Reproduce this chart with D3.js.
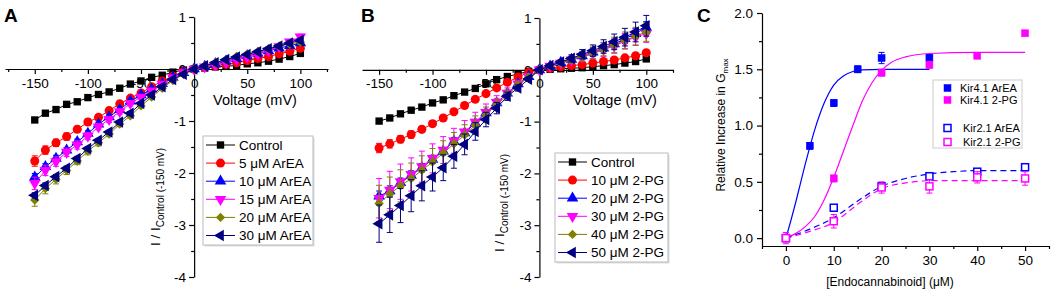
<!DOCTYPE html>
<html lang="en">
<head>
<meta charset="UTF-8" />
<title>Kir4.1 / Kir2.1 endocannabinoid</title>
<script src="https://d3js.org/d3.v7.min.js"></script>
<style>
body { margin: 0; background: #fff; }
svg { font-family: "Liberation Sans", Arial, sans-serif; }
.axis path, .axis line { stroke: #000; stroke-width: 1.2; fill: none; }
.axis text { font-size: 13.5px; fill: #000; }
</style>
</head>
<body>
<script>
// ---- data ----
var voltages = [-150,-140,-130,-120,-110,-100,-90,-80,-70,-60,-50,-40,-30,-20,-10,0,10,20,30,40,50,60,70,80,90,100];

// panel A : ArEA
var ctlA   = [-0.98,-0.85,-0.78,-0.68,-0.63,-0.55,-0.49,-0.44,-0.37,-0.29,-0.23,-0.16,-0.12,-0.06,-0.02,0,0.02,0.04,0.05,0.07,0.1,0.12,0.15,0.19,0.24,0.3];
var area5  = [-1.77,-1.56,-1.42,-1.3,-1.16,-1.02,-0.93,-0.8,-0.67,-0.56,-0.46,-0.34,-0.23,-0.14,-0.05,0,0.03,0.06,0.09,0.12,0.16,0.2,0.24,0.29,0.34,0.4];
var area10 = [-2.08,-1.88,-1.72,-1.56,-1.4,-1.24,-1.06,-0.92,-0.78,-0.62,-0.5,-0.39,-0.28,-0.16,-0.07,0,0.05,0.1,0.15,0.2,0.25,0.3,0.35,0.4,0.45,0.5];
var area15 = [-2.2,-1.95,-1.78,-1.6,-1.46,-1.29,-1.11,-0.97,-0.82,-0.66,-0.54,-0.42,-0.29,-0.17,-0.07,0,0.04,0.08,0.13,0.18,0.23,0.28,0.35,0.43,0.52,0.62];
var area20 = [-2.52,-2.3,-2.12,-1.95,-1.77,-1.58,-1.42,-1.25,-1.06,-0.9,-0.71,-0.54,-0.37,-0.22,-0.1,0,0.06,0.12,0.18,0.24,0.29,0.34,0.39,0.44,0.48,0.52];
var area30 = [-2.43,-2.24,-2.07,-1.91,-1.72,-1.53,-1.37,-1.21,-1.02,-0.85,-0.66,-0.5,-0.34,-0.2,-0.1,0,0.06,0.12,0.18,0.23,0.28,0.33,0.39,0.44,0.5,0.55];

var errCtlA  = [0.03,0.02,0.02,0.02,0.02,0.02,0.02,0.02,0.02,0.02,0.01,0.01,0.01,0.01,0.01,0,0.01,0.01,0.01,0.01,0.02,0.02,0.02,0.03,0.03,0.04];
var errArea5 = [0.1,0.08,0.07,0.07,0.06,0.06,0.05,0.05,0.05,0.04,0.04,0.03,0.03,0.02,0.02,0,0.01,0.01,0.02,0.02,0.02,0.03,0.03,0.03,0.04,0.04];
var errArea10= [0.07,0.06,0.06,0.05,0.05,0.05,0.04,0.04,0.04,0.03,0.03,0.03,0.02,0.02,0.01,0,0.01,0.01,0.02,0.02,0.02,0.03,0.03,0.03,0.04,0.04];
var errArea15= [0.12,0.1,0.09,0.08,0.08,0.07,0.06,0.06,0.05,0.05,0.04,0.03,0.03,0.02,0.02,0,0.01,0.02,0.02,0.02,0.03,0.03,0.04,0.04,0.05,0.05];
var errArea20= [0.12,0.1,0.09,0.08,0.07,0.07,0.06,0.05,0.05,0.04,0.04,0.03,0.03,0.02,0.02,0,0.01,0.02,0.02,0.02,0.03,0.03,0.03,0.04,0.04,0.05];
var errArea30= [0.05,0.05,0.04,0.04,0.04,0.04,0.03,0.03,0.03,0.03,0.02,0.02,0.02,0.01,0.01,0,0.01,0.01,0.02,0.02,0.02,0.03,0.03,0.03,0.04,0.04];

// panel B : 2-PG
var ctlB  = [-0.99,-0.93,-0.85,-0.78,-0.72,-0.64,-0.58,-0.5,-0.43,-0.36,-0.27,-0.19,-0.13,-0.08,-0.03,0,0.01,0.02,0.03,0.04,0.06,0.08,0.1,0.13,0.16,0.21];
var pg10  = [-1.51,-1.43,-1.34,-1.25,-1.15,-1.04,-0.93,-0.81,-0.69,-0.57,-0.46,-0.35,-0.24,-0.14,-0.05,0,0.03,0.06,0.08,0.1,0.13,0.16,0.19,0.23,0.27,0.33];
var pg20  = [-2.44,-2.34,-2.18,-2.04,-1.89,-1.73,-1.57,-1.38,-1.22,-1.03,-0.83,-0.64,-0.45,-0.27,-0.13,0,0.07,0.14,0.2,0.27,0.34,0.42,0.5,0.6,0.7,0.82];
var pg30  = [-2.48,-2.32,-2.16,-2.02,-1.87,-1.71,-1.55,-1.37,-1.2,-1.01,-0.82,-0.63,-0.45,-0.27,-0.13,0,0.07,0.13,0.19,0.25,0.32,0.39,0.46,0.55,0.63,0.7];
var pg40  = [-2.58,-2.4,-2.24,-2.1,-1.94,-1.78,-1.61,-1.43,-1.26,-1.07,-0.87,-0.67,-0.48,-0.29,-0.14,0,0.07,0.13,0.2,0.26,0.33,0.4,0.48,0.57,0.65,0.73];
var pg50  = [-2.97,-2.8,-2.62,-2.43,-2.24,-2.07,-1.89,-1.67,-1.44,-1.19,-0.96,-0.74,-0.51,-0.35,-0.18,0,0.08,0.15,0.22,0.3,0.37,0.45,0.54,0.63,0.73,0.85];

var errCtlB = [0.03,0.02,0.02,0.02,0.02,0.02,0.02,0.02,0.02,0.02,0.01,0.01,0.01,0.01,0.01,0,0.01,0.01,0.01,0.01,0.01,0.02,0.02,0.02,0.03,0.03];
var errPg10 = [0.09,0.08,0.07,0.07,0.06,0.06,0.05,0.05,0.05,0.04,0.04,0.03,0.03,0.02,0.02,0,0.01,0.01,0.02,0.02,0.02,0.03,0.03,0.03,0.04,0.04];
var errPg20 = [0.1,0.1,0.09,0.09,0.08,0.08,0.07,0.07,0.06,0.06,0.05,0.04,0.04,0.03,0.02,0,0.02,0.03,0.04,0.05,0.06,0.07,0.08,0.09,0.1,0.11];
var errPg30 = [0.38,0.36,0.34,0.32,0.3,0.28,0.26,0.24,0.22,0.19,0.16,0.13,0.1,0.07,0.04,0,0.03,0.05,0.07,0.09,0.11,0.13,0.14,0.15,0.16,0.17];
var errPg40 = [0.35,0.33,0.31,0.3,0.28,0.26,0.24,0.22,0.2,0.18,0.15,0.12,0.09,0.06,0.04,0,0.03,0.05,0.07,0.09,0.11,0.13,0.15,0.16,0.17,0.18];
var errPg50 = [0.36,0.34,0.33,0.31,0.29,0.27,0.25,0.23,0.2,0.17,0.14,0.11,0.08,0.06,0.04,0,0.03,0.05,0.07,0.09,0.11,0.13,0.15,0.17,0.19,0.2];

// panel C : concentration response
var concArea41 = [0,5,10,15,20,30];
var gArea41    = [0,0.82,1.2,1.5,1.6,1.6];
var eArea41    = [0.02,0.03,0.03,0.03,0.05,0.03];
var concPg41   = [0,10,20,30,40,50];
var gPg41      = [0,0.53,1.47,1.54,1.62,1.82];
var ePg41      = [0.02,0.03,0.03,0.03,0.02,0.02];
var concArea21 = [0,10,20,30,40,50];
var gArea21    = [0,0.27,0.46,0.55,0.59,0.63];
var eArea21    = [0.02,0.02,0.02,0.02,0.02,0.02];
var concPg21   = [0,10,20,30,40,50];
var gPg21      = [0,0.15,0.45,0.46,0.54,0.53];
var ePg21      = [0.05,0.06,0.05,0.06,0.05,0.06];

// fitted curves
var fitArea41X = [0,1,2,3,4,5,6,7,8,9,10,12,14,16,20,30];
var fitArea41Y = [0,0.15,0.31,0.48,0.65,0.81,0.96,1.09,1.2,1.29,1.36,1.44,1.48,1.495,1.5,1.5];
var fitPg41X   = [0,2,4,6,8,10,12,14,16,18,20,22,25,30,40,50];
var fitPg41Y   = [0,0.04,0.1,0.19,0.34,0.54,0.77,1.0,1.22,1.38,1.49,1.56,1.61,1.64,1.65,1.65];
var fitArea21X = [0,5,10,15,20,25,30,35,40,50];
var fitArea21Y = [0,0.08,0.18,0.33,0.46,0.53,0.57,0.59,0.6,0.6];
var fitPg21X   = [0,5,10,15,20,25,30,35,40,50];
var fitPg21Y   = [0,0.06,0.14,0.3,0.44,0.49,0.51,0.51,0.51,0.51];

var labelsA = ["Control","5 \u03bcM ArEA","10 \u03bcM ArEA","15 \u03bcM ArEA","20 \u03bcM ArEA","30 \u03bcM ArEA"];
var labelsB = ["Control","10 \u03bcM 2-PG","20 \u03bcM 2-PG","30 \u03bcM 2-PG","40 \u03bcM 2-PG","50 \u03bcM 2-PG"];
var labelsC = ["Kir4.1 ArEA","Kir4.1 2-PG","Kir2.1 ArEA","Kir2.1 2-PG"];

var colors = ["#000000","#ff0000","#0000ff","#ff00ff","#808000","#000080"];
var shapes = ["square","circle","up","down","diamond","left"];

// ---- drawing ----
var svg = d3.select("body").append("svg").attr("width", 1052).attr("height", 290);

function symbolPath(shape) {
  var t = d3.symbolSquare, s = 54;
  if (shape == "circle") { t = d3.symbolCircle; s = 64; }
  if (shape == "up" || shape == "down" || shape == "left") { t = d3.symbolTriangle; s = 58; }
  if (shape == "diamond") { t = d3.symbolSquare; s = 44; }
  return d3.symbol().type(t).size(s)();
}
function symbolRot(shape) {
  if (shape == "down") return 180;
  if (shape == "left") return -90;
  if (shape == "diamond") return 45;
  return 0;
}

function drawIV(cfg) {
  var x = cfg.x, y = cfg.y, g = svg.append("g");

  // axes
  g.append("g").attr("class", "axis")
    .attr("transform", "translate(0," + y(0) + ")")
    .call(d3.axisBottom(x).tickValues([-150,-100,-50,0,50,100]).tickSize(5).tickSizeOuter(0).tickPadding(4)
      .tickFormat(function(d) { return String(d); }));
  g.append("g").attr("class", "axis")
    .attr("transform", "translate(0," + y(0) + ")")
    .call(d3.axisBottom(x).tickValues(cfg.minorX).tickSize(3).tickSizeOuter(0).tickFormat(""))
    .select(".domain").remove();
  g.append("g").attr("class", "axis")
    .attr("transform", "translate(" + x(0) + ",0)")
    .call(d3.axisLeft(y).tickValues([-4,-3,-2,-1,0,1]).tickSize(5).tickSizeOuter(0).tickPadding(3)
      .tickFormat(function(d) { return String(d); }));
  g.append("g").attr("class", "axis")
    .attr("transform", "translate(" + x(0) + ",0)")
    .call(d3.axisLeft(y).tickValues([-3.5,-2.5,-1.5,-0.5,0.5]).tickSize(3).tickSizeOuter(0).tickFormat(""))
    .select(".domain").remove();

  g.append("text").attr("x", cfg.xLabelX).attr("y", 105).attr("text-anchor", "middle")
    .attr("font-size", 14.5).text("Voltage (mV)");

  var yl = g.append("text").attr("transform", "translate(" + cfg.yLabelX + "," + cfg.yLabelY + ") rotate(-90)")
    .attr("text-anchor", "middle").attr("font-size", 13.5);
  yl.append("tspan").text("I / I");
  yl.append("tspan").attr("font-size", 10).attr("dy", 4).text("Control (-150 mV)");

  g.append("text").attr("x", cfg.letterX).attr("y", 22).attr("font-size", 19).attr("font-weight", "bold").text(cfg.letter);

  // series
  cfg.series.forEach(function(s, k) {
    var pts = voltages.map(function(v, i) { return { v: v, m: s[i], e: cfg.errs[k][i] }; });
    var sg = g.append("g").attr("stroke", colors[k]);
    sg.selectAll(".eb").data(pts).enter().append("path")
      .attr("fill", "none").attr("stroke-width", 1)
      .attr("d", function(d) {
        var cx = x(d.v), y0 = y(d.m - d.e), y1 = y(d.m + d.e);
        return "M" + cx + "," + y0 + "V" + y1 + "M" + (cx - 3) + "," + y0 + "H" + (cx + 3) + "M" + (cx - 3) + "," + y1 + "H" + (cx + 3);
      });
    sg.append("path").datum(pts).attr("fill", "none").attr("stroke-width", 1)
      .attr("d", d3.line().x(function(d) { return x(d.v); }).y(function(d) { return y(d.m); }));
    sg.selectAll(".mk").data(pts).enter().append("path")
      .attr("fill", colors[k]).attr("stroke", "none")
      .attr("transform", function(d) { return "translate(" + x(d.v) + "," + y(d.m) + ") rotate(" + symbolRot(shapes[k]) + ")"; })
      .attr("d", symbolPath(shapes[k]));
  });

  // legend
  var lg = g.append("g");
  lg.append("rect").attr("x", cfg.legX + 1.5).attr("y", cfg.legY + 1.5).attr("width", cfg.legW).attr("height", 109)
    .attr("fill", "#ddd");
  lg.append("rect").attr("x", cfg.legX).attr("y", cfg.legY).attr("width", cfg.legW).attr("height", 109)
    .attr("fill", "#fff").attr("stroke", "#bbb").attr("stroke-width", 1);
  cfg.labels.forEach(function(lab, k) {
    var ly = cfg.legY + 9 + k * 18.1;
    lg.append("line").attr("x1", cfg.legX + 3).attr("x2", cfg.legX + 32).attr("y1", ly).attr("y2", ly)
      .attr("stroke", colors[k]).attr("stroke-width", 1);
    lg.append("path").attr("fill", colors[k])
      .attr("transform", "translate(" + (cfg.legX + 17.5) + "," + ly + ") rotate(" + symbolRot(shapes[k]) + ")")
      .attr("d", symbolPath(shapes[k]));
    lg.append("text").attr("x", cfg.legX + 36).attr("y", ly + 4.7).attr("font-size", 13.5).text(lab);
  });
}

drawIV({
  x: d3.scaleLinear().domain([-178, 126]).range([5, 328]),
  y: d3.scaleLinear().domain([-4, 1]).range([277, 17]),
  minorX: [-175,-125,-75,-25,25,75,125],
  series: [ctlA, area5, area10, area15, area20, area30],
  errs: [errCtlA, errArea5, errArea10, errArea15, errArea20, errArea30],
  labels: labelsA,
  xLabelX: 255, yLabelX: 160, yLabelY: 197,
  letter: "A", letterX: 4,
  legX: 203, legY: 136, legW: 110
});

drawIV({
  x: d3.scaleLinear().domain([-166, 125]).range([362, 673]),
  y: d3.scaleLinear().domain([-4, 1]).range([277, 18]),
  minorX: [-125,-75,-25,25,75,125],
  series: [ctlB, pg10, pg20, pg30, pg40, pg50],
  errs: [errCtlB, errPg10, errPg20, errPg30, errPg40, errPg50],
  labels: labelsB,
  xLabelX: 615, yLabelX: 504, yLabelY: 203,
  letter: "B", letterX: 361,
  legX: 555, legY: 153, legW: 113
});

// ---- panel C ----
var xC = d3.scaleLinear().domain([-5, 55]).range([762, 1049]);
var yC = d3.scaleLinear().domain([-0.07, 2.0]).range([246, 13]);
var gC = svg.append("g");

gC.append("g").attr("class", "axis").attr("transform", "translate(0,246)")
  .call(d3.axisBottom(xC).tickValues([0,10,20,30,40,50]).tickSize(5).tickSizeOuter(0).tickPadding(4));
gC.append("g").attr("class", "axis").attr("transform", "translate(0,246)")
  .call(d3.axisBottom(xC).tickValues([-5,5,15,25,35,45,55]).tickSize(3).tickSizeOuter(0).tickFormat(""))
  .select(".domain").remove();
gC.append("g").attr("class", "axis").attr("transform", "translate(762,0)")
  .call(d3.axisLeft(yC).tickValues([0,0.5,1,1.5,2]).tickSize(5).tickSizeOuter(0).tickPadding(4)
    .tickFormat(function(d) { return d.toFixed(1); }));
gC.append("g").attr("class", "axis").attr("transform", "translate(762,0)")
  .call(d3.axisLeft(yC).tickValues([0.25,0.75,1.25,1.75]).tickSize(3).tickSizeOuter(0).tickFormat(""))
  .select(".domain").remove();

gC.append("text").attr("x", 890).attr("y", 286).attr("text-anchor", "middle").attr("font-size", 12)
  .text("[Endocannabinoid] (\u03bcM)");
var ylC = gC.append("text").attr("transform", "translate(725,125) rotate(-90)")
  .attr("text-anchor", "middle").attr("font-size", 12);
ylC.append("tspan").text("Relative Increase in G");
ylC.append("tspan").attr("font-size", 8).attr("dy", 3).text("max");
gC.append("text").attr("x", 697).attr("y", 22).attr("font-size", 19).attr("font-weight", "bold").text("C");

var fits = [
  { xs: fitArea41X, ys: fitArea41Y, color: "#0000ff", dash: null },
  { xs: fitPg41X, ys: fitPg41Y, color: "#ff00ff", dash: null },
  { xs: fitArea21X, ys: fitArea21Y, color: "#0000ff", dash: "6,4" },
  { xs: fitPg21X, ys: fitPg21Y, color: "#ff00ff", dash: "6,4" }
];
fits.forEach(function(f) {
  var pts = f.xs.map(function(c, i) { return [c, f.ys[i]]; });
  gC.append("path").datum(pts).attr("fill", "none").attr("stroke", f.color).attr("stroke-width", 1.2)
    .attr("stroke-dasharray", f.dash)
    .attr("d", d3.line().curve(d3.curveMonotoneX).x(function(d) { return xC(d[0]); }).y(function(d) { return yC(d[1]); }));
});

var pointSets = [
  { xs: concArea41, ys: gArea41, es: eArea41, color: "#0000ff", open: false },
  { xs: concPg41, ys: gPg41, es: ePg41, color: "#ff00ff", open: false },
  { xs: concArea21, ys: gArea21, es: eArea21, color: "#0000ff", open: true },
  { xs: concPg21, ys: gPg21, es: ePg21, color: "#ff00ff", open: true }
];
pointSets.forEach(function(p) {
  var pts = p.xs.map(function(c, i) { return { c: c, m: p.ys[i], e: p.es[i] }; });
  var sg = gC.append("g");
  sg.selectAll(".eb").data(pts).enter().append("path")
    .attr("fill", "none").attr("stroke", p.color).attr("stroke-width", 1)
    .attr("d", function(d) {
      var cx = xC(d.c), y0 = yC(d.m - d.e), y1 = yC(d.m + d.e);
      return "M" + cx + "," + y0 + "V" + y1 + "M" + (cx - 3) + "," + y0 + "H" + (cx + 3) + "M" + (cx - 3) + "," + y1 + "H" + (cx + 3);
    });
  sg.selectAll(".mk").data(pts).enter().append("rect")
    .attr("x", function(d) { return xC(d.c) - 3.5; })
    .attr("y", function(d) { return yC(d.m) - 3.5; })
    .attr("width", 7).attr("height", 7)
    .attr("fill", p.open ? "#fff" : p.color)
    .attr("stroke", p.color).attr("stroke-width", p.open ? 1.5 : 0.5);
});

// legend C
var lgC = gC.append("g");
lgC.append("rect").attr("x", 933).attr("y", 80).attr("width", 89).attr("height", 68)
  .attr("fill", "#fff").attr("stroke", "#ccc").attr("stroke-width", 1);
var legYs = [88, 100, 128, 142];
labelsC.forEach(function(lab, k) {
  var p = pointSets[k];
  lgC.append("rect").attr("x", 944).attr("y", legYs[k] - 3.5).attr("width", 7).attr("height", 7)
    .attr("fill", p.open ? "#fff" : p.color).attr("stroke", p.color).attr("stroke-width", p.open ? 1.5 : 0.5);
  lgC.append("text").attr("x", k < 2 ? 960 : 963).attr("y", legYs[k] + 4).attr("font-size", 11).text(lab);
});
</script>
</body>
</html>
